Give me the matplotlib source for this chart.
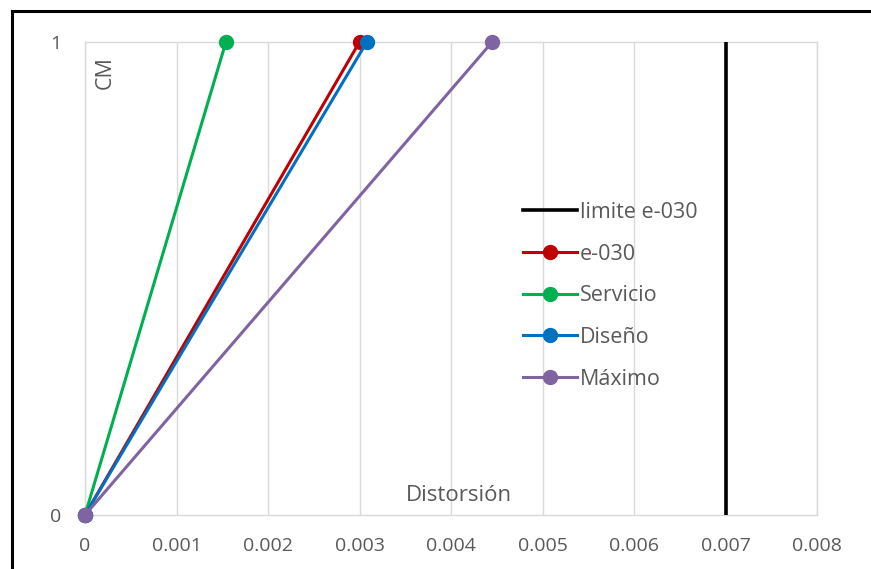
import matplotlib
matplotlib.use("Agg")
import matplotlib.pyplot as plt
from matplotlib.lines import Line2D

# Data
levels = [0, 1]
series_names = ["limite e-030", "e-030", "Servicio", "Diseño", "Máximo"]
limite = [0.007, 0.007]
e030 = [0.0, 0.00300]
servicio = [0.0, 0.00154]
diseno = [0.0, 0.00308]
maximo = [0.0, 0.00445]
xticks = [0, 0.001, 0.002, 0.003, 0.004, 0.005, 0.006, 0.007, 0.008]
xtick_labels = ["0", "0.001", "0.002", "0.003", "0.004", "0.005", "0.006", "0.007", "0.008"]
yticks = [0, 1]

colors = ["#000000", "#C00000", "#00B050", "#0070C0", "#8064A2"]
grid_c = "#D9D9D9"
text_c = "#595959"

plt.rcParams['font.family'] = ['Open Sans', 'DejaVu Sans']

fig = plt.figure(figsize=(8.71, 5.69), dpi=100)
ax = fig.add_axes([85/871, 1-515/569, (817-85)/871, (515-42)/569])

ax.plot(limite, levels, color=colors[0], lw=2.6, solid_capstyle='butt', zorder=3)
for vals, c in zip([e030, servicio, diseno, maximo], colors[1:]):
    ax.plot(vals, levels, color=c, lw=2.2, marker='o', ms=10, zorder=4, clip_on=False)

ax.set_xlim(0, 0.008)
ax.set_ylim(0, 1)
ax.set_xticks(xticks)
ax.set_xticklabels(xtick_labels)
ax.set_yticks(yticks)
ax.tick_params(length=0, colors=text_c, labelsize=14)
ax.tick_params(axis='x', pad=16)
ax.tick_params(axis='y', pad=17)
ax.grid(axis='x', color=grid_c, lw=1)
ax.set_axisbelow(True)
for s in ax.spines.values():
    s.set_color(grid_c)
    s.set_linewidth(1)

ax.text(0.013, 0.935, "CM", rotation=90, color=text_c, fontsize=15.5,
        transform=ax.transAxes, ha='left', va='center')
ax.text(0.511, 0.041, "Distorsión", color=text_c, fontsize=16,
        transform=ax.transAxes, ha='center', va='center')

handles = [Line2D([], [], color=colors[0], lw=2.6)]
for c in colors[1:]:
    handles.append(Line2D([], [], color=c, lw=2.2, marker='o', ms=10))
leg = ax.legend(handles, series_names, loc='upper left',
                bbox_to_anchor=(523/871, 1-202/569), bbox_transform=fig.transFigure,
                frameon=False, fontsize=15.5, handlelength=2.5, handletextpad=0.15,
                labelspacing=0.96, borderpad=0, borderaxespad=0)
for t in leg.get_texts():
    t.set_color(text_c)

# figure frame (left and top)
fig.add_artist(Line2D([12/871, 12/871], [0, 1-11/569], color='black', lw=2.2,
                      transform=fig.transFigure))
fig.add_artist(Line2D([12/871, 1], [1-11/569, 1-11/569], color='black', lw=2.2,
                      transform=fig.transFigure))

fig.savefig("out.png", dpi=100)
